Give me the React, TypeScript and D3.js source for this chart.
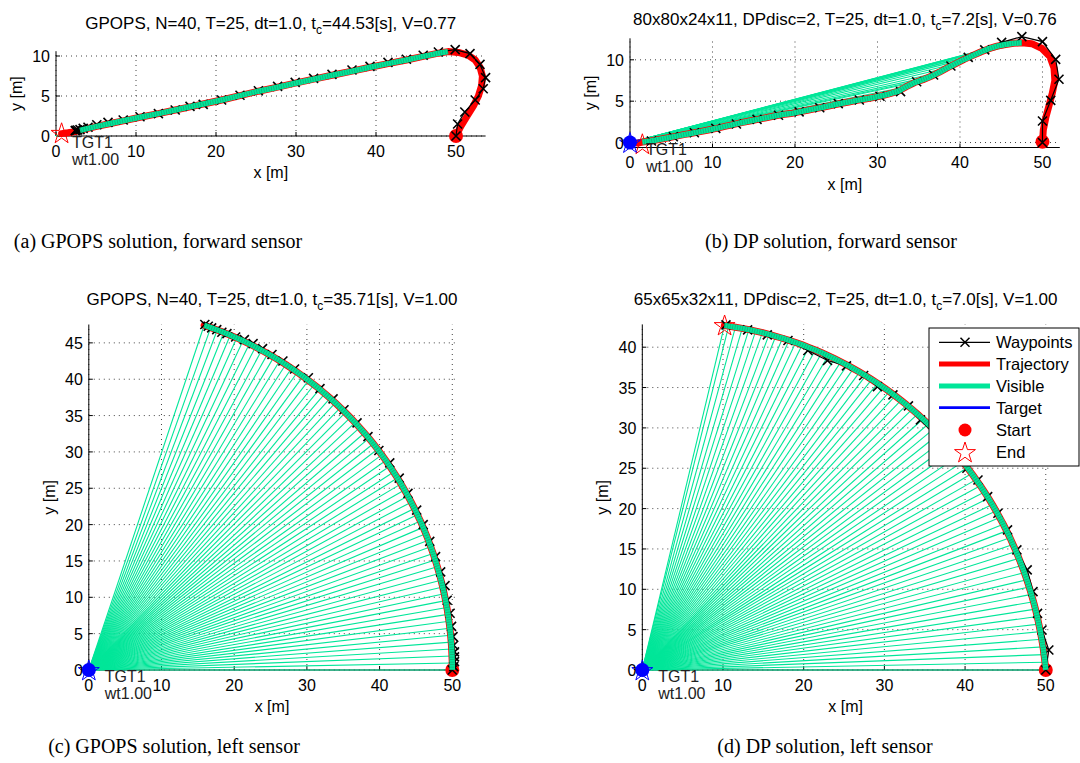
import React from 'react';
import * as d3 from 'd3';

type P = [number, number];

const W = 1080;
const H = 763;
const FONT = '"Liberation Sans", Arial, Helvetica, sans-serif';
const SERIF = '"Liberation Serif", "Times New Roman", serif';
const GREEN = 'rgb(0,230,153)';
const RED = '#ff0000';
const BLUE = '#0000ff';

// ---------------- tick labels ----------------
const xTicks = [0, 10, 20, 30, 40, 50];
const yTicksA = [0, 5, 10];
const yTicksB = [0, 5, 10];
const yTicksC = [0, 5, 10, 15, 20, 25, 30, 35, 40, 45];
const yTicksD = [0, 5, 10, 15, 20, 25, 30, 35, 40];

// ---------------- titles / captions ----------------
const titleA = ['GPOPS, N=40, T=25, dt=1.0, t', 'c', '=44.53[s], V=0.77'];
const titleB = ['80x80x24x11, DPdisc=2, T=25, dt=1.0, t', 'c', '=7.2[s], V=0.76'];
const titleC = ['GPOPS, N=40, T=25, dt=1.0, t', 'c', '=35.71[s], V=1.00'];
const titleD = ['65x65x32x11, DPdisc=2, T=25, dt=1.0, t', 'c', '=7.0[s], V=1.00'];
const captions = [
  '(a) GPOPS solution, forward sensor',
  '(b) DP solution, forward sensor',
  '(c) GPOPS solution, left sensor',
  '(d) DP solution, left sensor',
];
const legendLabels = ['Waypoints', 'Trajectory', 'Visible', 'Target', 'Start', 'End'];
const targetLabel = ['TGT1', 'wt1.00'];

// ---------------- panel (a) ----------------
const aTraj: P[] = [
  [50, 0], [50.6, 1.2], [51.4, 2.5], [52.2, 3.8], [52.8, 5.0], [53.2, 6.3], [53.3, 7.5],
  [53.0, 8.6], [52.4, 9.5], [51.5, 10.1], [50.3, 10.45], [49.0, 10.55], [47.8, 10.35],
  [45.9, 9.95], [43.8, 9.5], [41.5, 9.05], [39.25, 8.6], [37.0, 8.1], [34.5, 7.6], [32.2, 7.1],
  [29.9, 6.6], [27.7, 6.1], [25.3, 5.6], [23.0, 5.05], [20.7, 4.5], [18.4, 4.0], [16.75, 3.65],
  [14.9, 3.25], [12.8, 2.8], [10.5, 2.35], [8.4, 1.9], [6.5, 1.5], [5.1, 1.2], [4.0, 0.95],
  [3.0, 0.7], [2.4, 0.55], [1.5, 0.4], [0.7, 0.3],
];
const aVisible = [11, 34];
const aWaypoints: P[] = [
  [50, 0], [50.2, 1.5], [51.1, 3.0], [52.4, 4.5], [53.4, 5.9], [53.7, 7.3], [53.0, 8.95],
  [51.75, 10.3], [49.9, 10.8], [47.8, 10.5], [45.9, 10.1], [43.8, 9.6], [41.5, 9.2], [39.25, 8.7],
  [37.0, 8.25], [34.5, 7.7], [32.2, 7.2], [29.9, 6.7], [27.7, 6.2], [25.3, 5.66], [23.0, 5.1],
  [20.7, 4.5], [18.4, 3.96], [16.75, 3.7], [14.9, 3.25], [12.8, 2.8], [10.5, 2.4], [8.4, 2.0],
  [6.5, 1.7], [5.1, 1.4], [4.0, 1.1], [3.4, 0.95], [3.0, 0.8], [2.7, 0.75], [2.5, 0.7], [2.4, 0.68],
];
const aStart: P = [50, 0];
const aEnd: P = [0.7, 0.4];

// ---------------- panel (b) ----------------
const bTraj: P[] = [
  [50, 0], [50.1, 1.5], [50.4, 3.0], [50.8, 4.5], [51.2, 6.0], [51.5, 7.5], [51.4, 9.0],
  [50.9, 10.4], [49.9, 11.4], [48.7, 11.95],
  [47.5, 12.05], [46.5, 12.0], [45.5, 11.85], [44.5, 11.65], [43.5, 11.35], [42.5, 10.95],
  [41.5, 10.5], [40.5, 10.05], [39.5, 9.55], [38.5, 9.05], [37.5, 8.5], [36.5, 8.0], [35.5, 7.6],
  [34.5, 7.25], [33.5, 6.75], [32.5, 6.2], [31.5, 5.9], [30.5, 5.65], [29.5, 5.45], [28.5, 5.27],
  [27.5, 5.1], [26.5, 4.9], [25.5, 4.72], [24.5, 4.5], [23.5, 4.3], [22.5, 4.1], [21.5, 3.9],
  [20.5, 3.7], [19.5, 3.5], [18.5, 3.38], [17.5, 3.2], [16.5, 3.0], [15.5, 2.8], [14.5, 2.6],
  [13.5, 2.4], [12.5, 2.17], [11.5, 1.95], [10.5, 1.72], [9.5, 1.52], [8.5, 1.32], [7.5, 1.13],
  [6.5, 0.95], [5.5, 0.75], [4.5, 0.55], [3.5, 0.37], [2.5, 0.18], [1.5, 0.05], [1.0, -0.05],
];
const bVisible = [10, 56];
const bWaypoints: P[] = [
  [50, 0], [50, 2.6], [51.0, 5.1], [52.0, 7.65], [51.6, 10.05], [50.0, 12.2], [47.5, 12.8],
  [45.05, 12.1], [43.0, 11.2], [41.0, 10.3], [38.9, 9.25], [36.8, 8.16], [34.75, 7.35],
  [32.8, 6.15], [30.3, 5.6], [27.8, 5.14], [25.25, 4.7], [23.0, 4.2], [20.5, 3.7], [18.0, 3.3],
  [15.4, 2.8], [12.9, 2.24], [10.4, 1.71], [7.8, 1.19], [5.25, 0.7], [2.6, 0.18],
];
const bStart: P = [50, 0.1];
const bEnd: P = [1.5, -0.15];

// ---------------- panel (c) ----------------
const cTraj: P[] = [
  [50, 0], [49.99, 0.96], [49.96, 1.92], [49.92, 2.88], [49.85, 3.84], [49.77, 4.79],
  [49.67, 5.75], [49.55, 6.70], [49.41, 7.65], [49.26, 8.60], [49.08, 9.54], [48.89, 10.48],
  [48.68, 11.42], [48.45, 12.35], [48.20, 13.28], [47.94, 14.20], [47.66, 15.12], [47.36, 16.03],
  [47.04, 16.94], [46.71, 17.84], [46.36, 18.73], [45.99, 19.62], [45.61, 20.50], [45.20, 21.37],
  [44.79, 22.23], [44.35, 23.09], [43.90, 23.93], [43.43, 24.77], [42.95, 25.60], [42.45, 26.42],
  [41.93, 27.23], [41.40, 28.03], [40.86, 28.82], [40.30, 29.60], [39.72, 30.37], [39.13, 31.13],
  [38.53, 31.87], [37.91, 32.60], [37.27, 33.33], [36.63, 34.04], [35.97, 34.73], [35.29, 35.42],
  [34.61, 36.09], [33.91, 36.75], [33.20, 37.39], [32.47, 38.02], [31.74, 38.64], [30.99, 39.24],
  [30.23, 39.83], [29.46, 40.40], [28.68, 40.96], [27.89, 41.50], [27.09, 42.03], [26.27, 42.54],
  [25.45, 43.04], [24.62, 43.52], [23.78, 43.98], [22.93, 44.43], [22.08, 44.86], [21.21, 45.28],
  [20.34, 45.68], [19.46, 46.06], [18.57, 46.42], [17.67, 46.77], [16.77, 47.10], [15.87, 47.42],
];
const cVisible = [0, 65];
const cWaypoints: P[] = [
  [50, 0], [50.2, 0.46], [50.3, 1.15], [50.3, 1.8], [50.3, 2.5], [50.2, 3.4], [50.1, 4.6],
  [49.9, 6.0], [49.7, 7.8], [49.3, 9.6], [49.0, 11.6], [48.4, 13.5], [47.7, 15.6], [46.9, 17.7],
  [46.0, 20.0], [45.1, 22.0], [43.9, 24.3], [42.7, 26.4], [41.4, 28.5], [39.9, 30.2], [38.4, 32.1],
  [36.9, 34.0], [35.1, 35.8], [33.6, 37.3], [31.8, 38.7], [30.2, 40.2], [28.3, 41.4], [26.7, 42.5],
  [25.2, 43.4], [23.9, 44.2], [22.6, 44.9], [21.4, 45.45], [20.2, 45.8], [19.0, 46.28],
  [18.3, 46.46], [17.6, 46.83], [16.9, 47.06], [16.43, 47.29], [15.96, 47.52],
];
const cStart: P = [50, 0];

// ---------------- panel (d) ----------------
const dTraj: P[] = [
  [50, 0], [49.90, 0.96], [49.78, 1.91], [49.66, 2.86], [49.50, 3.81], [49.33, 4.75],
  [49.14, 5.69], [48.94, 6.62], [48.72, 7.54], [48.48, 8.46], [48.22, 9.37], [47.94, 10.28],
  [47.65, 11.18], [47.35, 12.07], [47.02, 12.95], [46.68, 13.83], [46.32, 14.69], [45.94, 15.55],
  [45.56, 16.40], [45.15, 17.24], [44.73, 18.07], [44.29, 18.89], [43.84, 19.70], [43.38, 20.50],
  [42.90, 21.29], [42.40, 22.07], [41.89, 22.84], [41.36, 23.59], [40.83, 24.34], [40.28, 25.07],
  [39.72, 25.79], [39.14, 26.50], [38.55, 27.20], [37.96, 27.88], [37.35, 28.55], [36.72, 29.21],
  [36.08, 29.85], [35.44, 30.48], [34.78, 31.10], [34.11, 31.70], [33.43, 32.29], [32.75, 32.86],
  [32.05, 33.42], [31.34, 33.97], [30.63, 34.50], [29.90, 35.01], [29.17, 35.51], [28.42, 35.99],
  [27.68, 36.47], [26.92, 36.92], [26.16, 37.35], [25.38, 37.77], [24.60, 38.18], [23.82, 38.57],
  [23.03, 38.95], [22.24, 39.31], [21.44, 39.65], [20.63, 39.97], [19.82, 40.29], [19.01, 40.58],
  [18.19, 40.85], [17.37, 41.11], [16.54, 41.35], [15.72, 41.59], [14.88, 41.80], [14.05, 41.99],
  [13.21, 42.17], [12.38, 42.33], [11.54, 42.48], [10.70, 42.61], [10.17, 42.68],
];
const dVisible = [0, 70];
const dWaypoints: P[] = [
  [50, 0], [50.38, 2.48], [49.53, 4.96], [48.98, 7.02], [48.42, 9.71], [47.7, 12.4],
  [46.42, 14.88], [45.26, 17.36], [44.07, 19.42], [42.8, 21.49], [41.6, 23.55], [40.23, 25.0],
  [38.1, 27.1], [36.3, 29.1], [34.47, 30.99], [32.98, 32.73], [31.06, 34.09], [29.14, 35.12],
  [27.43, 36.49], [25.3, 37.69], [22.95, 38.35], [20.52, 39.59], [18.05, 40.83], [15.49, 41.53],
  [13.05, 42.15], [10.37, 42.77],
];
const dStart: P = [50, 0];
const dEnd: P = [10.2, 42.75];

const target: P = [0, 0];

// ---------------- layout ----------------
interface PanelCfg {
  title: string[];
  titleY: number;
  xDomain: P; xRange: P;
  yDomain: P; yRange: P;
  yTicks: number[];
  traj: P[]; visible: number[];
  waypoints: P[];
  start: P; end?: P;
  showTarget: boolean;
  legend?: boolean;
}

const panels: PanelCfg[] = [
  { title: titleA, titleY: 29, xDomain: [0, 53.7], xRange: [56, 485.6], yDomain: [0, 10.6], yRange: [136, 51.2],
    yTicks: yTicksA, traj: aTraj, visible: aVisible, waypoints: aWaypoints, start: aStart, end: aEnd, showTarget: false },
  { title: titleB, titleY: 25, xDomain: [0, 52.1], xRange: [630, 1059.8], yDomain: [-0.6, 12.6], yRange: [147.5, 38.3],
    yTicks: yTicksB, traj: bTraj, visible: bVisible, waypoints: bWaypoints, start: bStart, end: bEnd, showTarget: true },
  { title: titleC, titleY: 305, xDomain: [0, 50.4], xRange: [88.8, 455.2], yDomain: [0, 47.5], yRange: [670, 324.7],
    yTicks: yTicksC, traj: cTraj, visible: cVisible, waypoints: cWaypoints, start: cStart, showTarget: true },
  { title: titleD, titleY: 305, xDomain: [0, 50.4], xRange: [642.3, 1049], yDomain: [0, 42.8], yRange: [670, 324.6],
    yTicks: yTicksD, traj: dTraj, visible: dVisible, waypoints: dWaypoints, start: dStart, end: dEnd, showTarget: true, legend: true },
];

const captionPos: P[] = [[158, 248], [831, 248], [174, 753], [825, 753]];

const starPath = d3.symbol().type(d3.symbolStar).size(136)() as string;

function xMark(cx: number, cy: number, s = 4.5) {
  return `M${cx - s},${cy - s}L${cx + s},${cy + s}M${cx - s},${cy + s}L${cx + s},${cy - s}`;
}

function Legend() {
  const x0 = 929, y0 = 328, w = 150, h = 138;
  const rows = [342.3, 364, 386, 407.7, 430, 452];
  const lx0 = 939, lx1 = 990, mx = 965, tx = 996;
  return (
    <g>
      <rect x={x0} y={y0} width={w} height={h} fill="#fff" stroke="#000" strokeWidth={1} />
      <line x1={lx0} x2={lx1} y1={rows[0]} y2={rows[0]} stroke="#000" strokeWidth={1.2} />
      <path d={xMark(mx, rows[0])} stroke="#000" strokeWidth={1.5} fill="none" />
      <line x1={lx0} x2={lx1} y1={rows[1]} y2={rows[1]} stroke={RED} strokeWidth={5} />
      <line x1={lx0} x2={lx1} y1={rows[2]} y2={rows[2]} stroke={GREEN} strokeWidth={5} />
      <line x1={lx0} x2={lx1} y1={rows[3]} y2={rows[3]} stroke={BLUE} strokeWidth={2.8} />
      <circle cx={mx} cy={rows[4]} r={6.5} fill={RED} />
      <path d={starPath} transform={`translate(${mx},${rows[5] + 1})`} fill="none" stroke={RED} strokeWidth={1} />
      {legendLabels.map((t, i) => (
        <text key={t} x={tx} y={rows[i] + 6} fontFamily={FONT} fontSize={16.5} fill="#000">{t}</text>
      ))}
    </g>
  );
}

function Panel({ cfg }: { cfg: PanelCfg }) {
  const x = d3.scaleLinear().domain(cfg.xDomain).range(cfg.xRange);
  const y = d3.scaleLinear().domain(cfg.yDomain).range(cfg.yRange);
  const line = d3.line<P>().x((d) => x(d[0])).y((d) => y(d[1]));
  const [xl, xr] = cfg.xRange;
  const [yb, yt] = cfg.yRange;
  const visPts = cfg.traj.slice(cfg.visible[0], cfg.visible[1] + 1);
  const tx = x(target[0]);
  const ty = y(target[1]);
  const cx = (xl + xr) / 2;
  const cy = (yb + yt) / 2;
  return (
    <g>
      {/* grid */}
      {xTicks.map((t) => (
        <line key={'gx' + t} x1={x(t)} x2={x(t)} y1={yb} y2={yt} stroke="#444" strokeWidth={1} strokeDasharray="1 4" />
      ))}
      {cfg.yTicks.map((t) => (
        <line key={'gy' + t} x1={xl} x2={xr} y1={y(t)} y2={y(t)} stroke="#444" strokeWidth={1} strokeDasharray="1 4" />
      ))}
      {/* axes */}
      <line x1={xl} x2={xr} y1={yb} y2={yb} stroke="#000" strokeWidth={1} />
      <line x1={xl} x2={xl} y1={yb} y2={yt} stroke="#000" strokeWidth={1} />
      {xTicks.map((t) => (
        <line key={'tx' + t} x1={x(t)} x2={x(t)} y1={yb} y2={yb - 4} stroke="#000" strokeWidth={1} />
      ))}
      {cfg.yTicks.map((t) => (
        <line key={'ty' + t} x1={xl} x2={xl + 4} y1={y(t)} y2={y(t)} stroke="#000" strokeWidth={1} />
      ))}
      {/* rays */}
      {visPts.map((p, i) => (
        <line key={'r' + i} x1={tx} y1={ty} x2={x(p[0])} y2={y(p[1])} stroke={GREEN} strokeWidth={1.1} />
      ))}
      {/* trajectory */}
      <path d={line(cfg.traj) as string} fill="none" stroke={RED} strokeWidth={7} strokeLinejoin="round" strokeLinecap="round" />
      {/* start & end */}
      <circle cx={x(cfg.start[0])} cy={y(cfg.start[1])} r={7} fill={RED} />
      {cfg.end && (
        <path d={starPath} transform={`translate(${x(cfg.end[0])},${y(cfg.end[1]) + 1})`} fill="none" stroke={RED} strokeWidth={1} />
      )}
      {/* waypoints */}
      <path d={line(cfg.waypoints) as string} fill="none" stroke="#000" strokeWidth={1.2} />
      {cfg.waypoints.map((p, i) => (
        <path key={'w' + i} d={xMark(x(p[0]), y(p[1]))} stroke="#000" strokeWidth={1.6} fill="none" />
      ))}
      {/* visible band */}
      <path d={line(visPts) as string} fill="none" stroke={GREEN} strokeWidth={5.5} strokeLinejoin="round" />
      <path d={line(visPts) as string} fill="none" stroke="#2c6b52" strokeOpacity={0.45} strokeWidth={4.5} strokeDasharray="0.8 1.7" />
      {/* target */}
      {cfg.showTarget && (
        <g>
          <circle cx={tx} cy={ty} r={7} fill={BLUE} />
          <path d={starPath} transform={`translate(${tx},${ty + 1})`} fill="none" stroke={BLUE} strokeWidth={1} />
        </g>
      )}
      <text x={tx + 16} y={ty + 12} fontFamily={FONT} fontSize={16} fill="#222">{targetLabel[0]}</text>
      <text x={tx + 16} y={ty + 29} fontFamily={FONT} fontSize={16} fill="#222">{targetLabel[1]}</text>
      {/* tick labels */}
      {xTicks.map((t) => (
        <text key={'lx' + t} x={x(t)} y={yb + 20.5} textAnchor="middle" fontFamily={FONT} fontSize={16} fill="#000">{t}</text>
      ))}
      {cfg.yTicks.map((t) => (
        <text key={'ly' + t} x={xl - 6} y={y(t) + 6} textAnchor="end" fontFamily={FONT} fontSize={16} fill="#000">{t}</text>
      ))}
      {/* axis labels */}
      <text x={cx} y={yb + 42} textAnchor="middle" fontFamily={FONT} fontSize={16} fill="#000">x [m]</text>
      <text transform={`translate(${xl - 34},${cy}) rotate(-90)`} textAnchor="middle" fontFamily={FONT} fontSize={16} fill="#000">y [m]</text>
      {/* title */}
      <text x={cx} y={cfg.titleY} textAnchor="middle" fontFamily={FONT} fontSize={17} fill="#000">
        {cfg.title[0]}
        <tspan dy={5} fontSize={12}>{cfg.title[1]}</tspan>
        <tspan dy={-5}>{cfg.title[2]}</tspan>
      </text>
      {cfg.legend && <Legend />}
    </g>
  );
}

export default function App() {
  return (
    <svg width={W} height={H} viewBox={`0 0 ${W} ${H}`} style={{ position: 'absolute', left: 0, top: 0, background: '#fff' }}>
      <rect x={0} y={0} width={W} height={H} fill="#fff" />
      {panels.map((p, i) => (
        <Panel key={i} cfg={p} />
      ))}
      {captions.map((c, i) => (
        <text key={c} x={captionPos[i][0]} y={captionPos[i][1]} textAnchor="middle" fontFamily={SERIF} fontSize={20} fill="#000">{c}</text>
      ))}
    </svg>
  );
}
